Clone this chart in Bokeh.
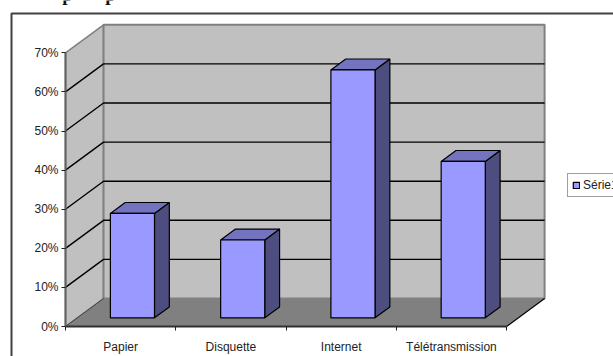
from bokeh.core.properties import value
from bokeh.embed import file_html
from bokeh.models import (BoxAnnotation, FixedTicker, Legend, LegendItem,
                          NumeralTickFormatter, Range1d)
from bokeh.plotting import figure
from bokeh.resources import INLINE

# Share of each transmission channel
categories = ["Papier", "Disquette", "Internet", "Télétransmission"]
shares = [0.267, 0.199, 0.634, 0.40]
series_name = "Série1"
percent_ticks = [0.0, 0.1, 0.2, 0.3, 0.4, 0.5, 0.6, 0.7]
heading_fragments = ["p", "p"]

# Oblique projection of the box: how far the back plane is shifted
DEPTH_X = 0.345
DEPTH_Y = 0.0716
Y_TOP = 0.7
X_END = len(categories)

# Bar placement inside one category slot, as fractions of the slot and depth
BAR_GAP = 0.30
BAR_WIDTH = 0.40
BAR_NEAR = 0.31
BAR_DEEP = 0.39

WALL = "#c0c0c0"
FLOOR = "#808080"
FRONT = "#9999ff"
TOP = "#7373bf"
SIDE = "#4d4d80"
EDGE = "#808080"
FONT = "Liberation Sans"


def back(x, y, depth=1.0):
    """Shift a point of the front plane towards the back of the box."""
    return x + depth * DEPTH_X, y + depth * DEPTH_Y


# The plot area fills the page; both axes sit at the zero of the other one
p = figure(width=613, height=356, output_backend="svg", toolbar_location=None,
           x_range=Range1d(-0.5896, 4.97), y_range=Range1d(-0.0767, 0.8338),
           min_border_left=0, min_border_right=0, min_border_top=0,
           min_border_bottom=0, background_fill_color="white",
           outline_line_color=None)
p.grid.visible = False

p.yaxis.fixed_location = 0
p.yaxis.ticker = FixedTicker(ticks=percent_ticks)
p.yaxis.formatter = NumeralTickFormatter(format="0%")
p.yaxis.bounds = (0, Y_TOP)
p.yaxis.axis_line_color = "#606060"
p.yaxis.axis_line_width = 2
p.yaxis.major_tick_line_color = "#202020"
p.yaxis.major_tick_in = 0
p.yaxis.major_tick_out = 4
p.yaxis.minor_tick_line_color = None
p.yaxis.major_label_standoff = 3
p.yaxis.major_label_text_font = FONT
p.yaxis.major_label_text_font_size = "12px"
p.yaxis.major_label_text_color = "#222222"

centres = [i + 0.5 for i in range(len(categories))]
p.xaxis.fixed_location = 0
p.xaxis.ticker = FixedTicker(ticks=centres, minor_ticks=list(range(len(categories) + 1)))
p.xaxis.major_label_overrides = dict(zip(centres, categories))
p.xaxis.bounds = (0, X_END)
p.xaxis.axis_line_color = "#303030"
p.xaxis.axis_line_width = 2
p.xaxis.major_tick_line_color = None
p.xaxis.minor_tick_line_color = "#202020"
p.xaxis.minor_tick_in = 0
p.xaxis.minor_tick_out = 4
p.xaxis.major_label_standoff = 7
p.xaxis.major_label_text_font = FONT
p.xaxis.major_label_text_font_size = "12px"
p.xaxis.major_label_text_color = "#222222"

# Left wall, back wall and floor
bx0, by0 = back(0, 0)
bx1, by1 = back(X_END, 0)
_, by_top = back(0, Y_TOP)
p.patch([0, bx0, bx0, 0], [0, by0, by_top, Y_TOP], fill_color=WALL,
        line_color=EDGE, line_width=1.5)
p.patch([bx0, bx1, bx1, bx0], [by0, by0, by_top, by_top], fill_color=WALL,
        line_color=EDGE, line_width=2)

# Gridlines run along the left wall and across the back wall
grid_values = [v for v in percent_ticks if 0 < v < Y_TOP]
grid_xs = [[0, bx0, bx1] for _ in grid_values]
grid_ys = [[v, back(0, v)[1], back(0, v)[1]] for v in grid_values]
p.multi_line(grid_xs, grid_ys, line_color="black", line_width=1.4)

p.patch([0, X_END, bx1, bx0], [0, 0, by0, by0], fill_color=FLOOR, line_color=None)
p.line([X_END, bx1], [0, by0], line_color="black", line_width=1.2)
p.line([0, bx0], [0, by0], line_color="#404040", line_width=1)

# Bars: one polygon per visible face
front_xs, front_ys, top_xs, top_ys, side_xs, side_ys = [], [], [], [], [], []
for i, share in enumerate(shares):
    x0, y0 = back(i + BAR_GAP, 0, BAR_NEAR)
    x1 = x0 + BAR_WIDTH
    y1 = y0 + share
    dx = BAR_DEEP * DEPTH_X
    dy = BAR_DEEP * DEPTH_Y
    front_xs.append([x0, x1, x1, x0])
    front_ys.append([y0, y0, y1, y1])
    top_xs.append([x0, x1, x1 + dx, x0 + dx])
    top_ys.append([y1, y1, y1 + dy, y1 + dy])
    side_xs.append([x1, x1 + dx, x1 + dx, x1])
    side_ys.append([y0, y0 + dy, y1 + dy, y1])

p.patches(side_xs, side_ys, fill_color=SIDE, line_color="black", line_width=1.2)
p.patches(top_xs, top_ys, fill_color=TOP, line_color="black", line_width=1.2)
faces = p.patches(front_xs, front_ys, fill_color=FRONT, line_color="black", line_width=1.2)

# Lower part of a heading above the chart area
p.text([-0.03, 0.36], [0.85, 0.85], text=heading_fragments,
       text_font=value("Liberation Serif"), text_font_size="19px",
       text_font_style="bold", text_color="#111111", text_baseline="alphabetic")

# Chart border; its right and bottom edges lie outside the page
p.add_layout(BoxAnnotation(left=11, right=700, top=13, bottom=400,
                           left_units="canvas", right_units="canvas",
                           top_units="canvas", bottom_units="canvas",
                           fill_color=None, line_color="#404040",
                           line_alpha=1, line_width=2))

legend = Legend(items=[LegendItem(label=series_name, renderers=[faces])],
                location=(567, 159), orientation="vertical",
                glyph_width=8, glyph_height=8, padding=4, margin=0,
                spacing=0, label_standoff=3, label_text_font=FONT,
                label_text_font_size="12px", label_text_color="#222222",
                border_line_color="#404040", border_line_width=1,
                background_fill_color="white", background_fill_alpha=1)
p.add_layout(legend, "center")

open("out.html", "w").write(file_html(p, INLINE))
